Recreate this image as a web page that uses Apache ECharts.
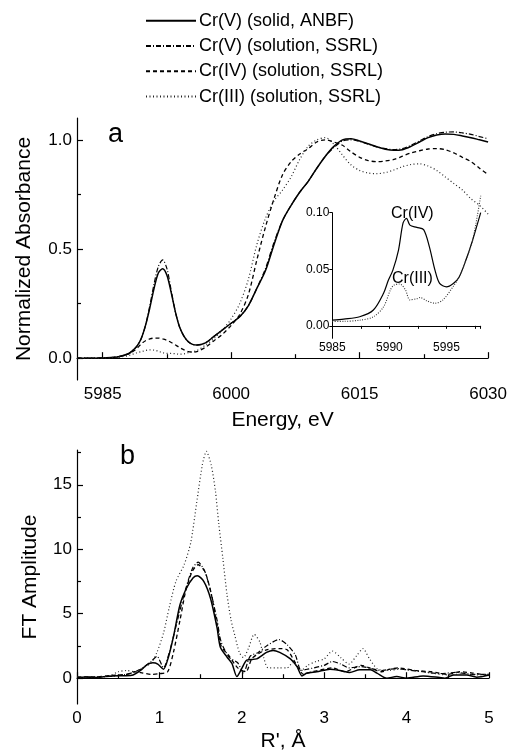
<!DOCTYPE html>
<html><head><meta charset="utf-8">
<script src="https://cdn.jsdelivr.net/npm/echarts@6/dist/echarts.min.js"></script>
<style>html,body{margin:0;padding:0;background:#fff}#c{width:510px;height:753px}</style>
</head><body><div id="c"></div>
<script>
// ---------- DATA ----------
const seriesNames = ['Cr(V) (solid, ANBF)', 'Cr(V) (solution, SSRL)', 'Cr(IV) (solution, SSRL)', 'Cr(III) (solution, SSRL)'];

// Panel a: XANES
const energies = [5982,5984,5986,5987,5988,5988.5,5989,5989.5,5990,5990.5,5991,5991.5,5992,5992.5,5993,5993.5,5994,5994.5,5995,5995.5,5996,5997,5998,5999,6000,6001,6002,6003,6004,6005,6006,6007,6008,6009,6010,6011,6012,6013,6014,6015,6016,6017,6018,6019,6020,6021,6022,6023,6024,6025,6026,6027,6028,6029,6030];
const aSolid = [0,0,0.003,0.008,0.02,0.035,0.055,0.09,0.15,0.23,0.32,0.39,0.41,0.38,0.30,0.21,0.14,0.10,0.075,0.063,0.06,0.07,0.10,0.13,0.16,0.19,0.24,0.32,0.40,0.52,0.63,0.70,0.76,0.81,0.87,0.925,0.97,1.0,1.005,0.995,0.982,0.968,0.957,0.952,0.955,0.97,0.99,1.01,1.022,1.027,1.025,1.018,1.01,1.0,0.99];
const aDashDot = [0,0,0.003,0.008,0.02,0.035,0.055,0.09,0.15,0.24,0.34,0.42,0.45,0.41,0.31,0.21,0.14,0.10,0.075,0.063,0.06,0.07,0.10,0.13,0.16,0.19,0.24,0.32,0.41,0.53,0.63,0.70,0.76,0.81,0.87,0.925,0.965,0.995,1.0,0.993,0.98,0.968,0.96,0.955,0.96,0.975,0.995,1.015,1.028,1.035,1.036,1.032,1.025,1.015,1.005];
const aDashed = [0,0,0.003,0.008,0.02,0.03,0.045,0.065,0.08,0.088,0.092,0.092,0.088,0.082,0.072,0.06,0.048,0.038,0.03,0.028,0.03,0.05,0.08,0.11,0.15,0.20,0.29,0.45,0.60,0.73,0.84,0.90,0.935,0.96,0.99,1.0,0.99,0.975,0.945,0.92,0.905,0.90,0.903,0.91,0.925,0.94,0.95,0.958,0.96,0.955,0.94,0.92,0.90,0.87,0.84];
const aDotted = [0,0,0.002,0.005,0.012,0.018,0.025,0.03,0.035,0.038,0.037,0.032,0.025,0.022,0.022,0.02,0.018,0.02,0.025,0.03,0.035,0.06,0.09,0.13,0.18,0.25,0.36,0.52,0.64,0.72,0.77,0.83,0.91,0.97,1.0,1.01,0.98,0.93,0.885,0.86,0.848,0.845,0.85,0.862,0.877,0.887,0.89,0.88,0.86,0.83,0.80,0.77,0.73,0.70,0.66];

// Inset (pre-edge)
const insetIVEnergy = [5985,5986,5987.4,5988.6,5989.5,5989.9,5990.3,5990.8,5991.2,5991.5,5991.8,5992.4,5993.0,5993.5,5994.0,5994.4,5995.0,5995.6,5996.1,5996.7,5997.3,5998.0];
const insetIV = [0.005,0.006,0.008,0.014,0.029,0.04,0.049,0.067,0.091,0.095,0.089,0.087,0.085,0.07,0.049,0.0375,0.0345,0.0375,0.043,0.058,0.076,0.10];
const insetIIIEnergy = [5985,5986,5987.4,5988.6,5989.5,5990.1,5990.4,5990.9,5991.4,5991.8,5992.4,5992.7,5993.3,5994.0,5994.7,5995.6,5996.1,5996.7,5997.3,5998.0];
const insetIII = [0.004,0.004,0.005,0.008,0.017,0.032,0.036,0.037,0.032,0.023,0.024,0.025,0.022,0.02,0.023,0.035,0.043,0.058,0.076,0.115];

// Panel b: FT
const bSolidR = [0,0.1,0.2,0.3,0.4,0.5,0.6,0.68,0.77,0.85,0.92,0.98,1.05,1.11,1.17,1.25,1.33,1.41,1.46,1.54,1.62,1.70,1.74,1.82,1.88,1.94,2.0,2.06,2.18,2.3,2.38,2.46,2.59,2.67,2.73,2.79,2.91,3.07,3.19,3.31,3.43,3.56,3.64,3.76,3.88,4.0,4.2,4.4,4.46,4.57,4.73,4.85,5.0];
const bSolid = [0,0.1,0.05,0.1,0.15,0.2,0.2,0.25,0.6,1.05,1.2,1.1,0.7,1.65,3.2,5.7,7.0,7.8,7.95,7.5,6.2,3.9,2.4,1.65,1.15,0.13,0.76,1.4,1.5,2.0,2.15,2.0,1.5,0.9,0.18,0.4,0.5,0.7,0.6,0.45,0.65,0.65,0.4,0.0,0.13,0.0,0.18,0.05,0.0,0.25,0.25,0.08,0.25];
const bDashDotR = [0,0.2,0.4,0.6,0.7,0.8,0.9,0.97,1.05,1.12,1.2,1.3,1.4,1.47,1.55,1.62,1.7,1.75,1.85,1.95,2.02,2.1,2.2,2.3,2.45,2.55,2.65,2.72,2.8,3.0,3.1,3.2,3.3,3.45,3.6,3.7,3.8,3.9,4.0,4.2,4.4,4.6,4.8,5.0];
const bDashDot = [0.05,0.1,0.15,0.3,0.5,0.8,1.3,1.7,0.8,2.0,4.0,6.5,8.5,9.0,8.3,6.8,4.5,2.8,1.6,1.2,0.4,1.7,2.0,2.5,3.0,2.6,1.8,0.6,0.7,1.0,1.3,1.1,0.8,0.9,0.7,0.6,0.7,0.75,0.65,0.5,0.35,0.45,0.3,0.3];
const bDashedR = [0,0.2,0.4,0.6,0.7,0.8,0.9,1.0,1.1,1.17,1.25,1.32,1.4,1.47,1.55,1.62,1.7,1.75,1.85,1.95,2.05,2.12,2.2,2.3,2.45,2.55,2.65,2.75,2.85,3.0,3.1,3.25,3.45,3.55,3.7,3.8,3.9,4.1,4.3,4.5,4.65,4.8,5.0];
const bDashed = [0.1,0.1,0.2,0.3,0.5,0.4,0.3,0.35,0.5,2.0,4.5,6.8,8.3,8.8,8.3,6.8,4.2,2.5,1.7,0.8,0.5,1.5,1.9,2.2,2.3,2.2,1.2,0.3,0.5,0.7,0.8,0.5,1.0,0.8,0.5,0.7,0.8,0.6,0.5,0.3,0.5,0.4,0.2];
const bDottedR = [0,0.2,0.4,0.5,0.6,0.7,0.8,0.9,0.97,1.05,1.12,1.2,1.3,1.38,1.45,1.52,1.57,1.63,1.68,1.72,1.77,1.82,1.87,1.92,1.97,2.02,2.08,2.15,2.22,2.27,2.32,2.45,2.55,2.62,2.72,2.8,2.9,3.0,3.1,3.2,3.3,3.4,3.47,3.55,3.65,3.8,3.9,4.1,4.3,4.5,4.7,4.85,5.0];
const bDotted = [0.1,0.1,0.2,0.5,0.6,0.5,0.8,1.2,2.0,3.5,5.5,7.5,8.8,10.5,13.5,16.5,17.6,16.5,14.5,12.0,9.3,6.5,4.5,3.2,2.0,1.6,2.3,3.4,2.8,1.5,0.8,0.8,0.8,1.2,0.6,1.0,1.3,1.5,2.1,1.6,1.1,1.8,2.3,1.5,0.7,0.6,0.7,0.6,0.4,0.25,0.35,0.25,0.3];

// Tick values
const aXMajor = [5985, 6000, 6015, 6030];
const aXMinor = [5992.5, 6007.5, 6022.5];
const aYMajor = [0, 0.5, 1.0];
const aYMinor = [0.25, 0.75];
const bXMajor = [0, 1, 2, 3, 4, 5];
const bXMinor = [0.5, 1.5, 2.5, 3.5, 4.5];
const bYMajor = [0, 5, 10, 15];
const bYMinor = [2.5, 7.5, 12.5, 17.5];
const insetXLabels = [5985, 5990, 5995];
const insetYMajor = [0, 0.05, 0.10];

// ---------- CHART ----------
const FONT = "'Liberation Sans', Arial, sans-serif";
const pair = (xs, ys) => xs.slice(0, Math.min(xs.length, ys.length)).map((x, i) => [x, ys[i]]);
const styles = [
  {color: '#000', type: 'solid', width: 1.5},
  {color: '#000', type: [5, 2, 1, 2], width: 1.2},
  {color: '#000', type: [4, 3], width: 1.3},
  {color: '#222', type: [1, 2.5], width: 1.2}
];
const axLine = {show: true, lineStyle: {color: '#000', width: 1.2}};
const plain = v => String(v);

function mainX(grid, min, max, major, name, nameGap) {
  return {type: 'value', gridIndex: grid, min, max, position: 'bottom',
    axisLine: axLine, splitLine: {show: false},
    axisTick: {show: true, inside: true, length: 6, customValues: major, lineStyle: {color: '#000', width: 1.2}},
    axisLabel: {customValues: major, formatter: plain, color: '#000', fontSize: 17, fontFamily: FONT, margin: 6},
    name, nameLocation: 'middle', nameGap, nameTextStyle: {color: '#000', fontSize: 21, fontFamily: FONT}};
}
function minorX(grid, min, max, minor) {
  return {type: 'value', gridIndex: grid, min, max, position: 'bottom',
    axisLine: {show: false}, splitLine: {show: false}, axisLabel: {show: false},
    axisTick: {show: true, inside: true, length: 4, customValues: minor, lineStyle: {color: '#000', width: 1.2}}};
}
function mainY(grid, min, max, major, fmt, name, nameGap) {
  return {type: 'value', gridIndex: grid, min, max, position: 'left',
    axisLine: axLine, splitLine: {show: false},
    axisTick: {show: true, inside: true, length: 6, customValues: major, lineStyle: {color: '#000', width: 1.2}},
    axisLabel: {customValues: major, formatter: fmt, color: '#000', fontSize: 17, fontFamily: FONT, margin: 5},
    name, nameLocation: 'middle', nameGap, nameTextStyle: {color: '#000', fontSize: 21, fontFamily: FONT}};
}
function minorY(grid, min, max, minor) {
  return {type: 'value', gridIndex: grid, min, max, position: 'left', offset: 0,
    axisLine: {show: false}, splitLine: {show: false}, axisLabel: {show: false},
    axisTick: {show: true, inside: true, length: 4, customValues: minor, lineStyle: {color: '#000', width: 1.2}}};
}

const series = [];
const aSets = [aSolid, aDashDot, aDashed, aDotted];
aSets.forEach((ys, i) => series.push({type: 'line', name: seriesNames[i], xAxisIndex: 0, yAxisIndex: 0,
  data: pair(energies, ys), symbol: 'none', showSymbol: false, smooth: 0.3, lineStyle: styles[i], itemStyle: {color: '#000'}}));
const bSets = [[bSolidR, bSolid], [bDashDotR, bDashDot], [bDashedR, bDashed], [bDottedR, bDotted]];
bSets.forEach((s, i) => series.push({type: 'line', name: seriesNames[i], xAxisIndex: 2, yAxisIndex: 2,
  data: pair(s[0], s[1]), symbol: 'none', showSymbol: false, smooth: 0.25, lineStyle: styles[i], itemStyle: {color: '#000'}}));
series.push({type: 'line', name: 'insetIV', xAxisIndex: 4, yAxisIndex: 4, data: pair(insetIVEnergy, insetIV),
  symbol: 'none', smooth: 0.3, clip: false, lineStyle: {color: '#000', width: 1.2}});
series.push({type: 'line', name: 'insetIII', xAxisIndex: 4, yAxisIndex: 4, data: pair(insetIIIEnergy, insetIII),
  symbol: 'none', smooth: 0.3, clip: false, lineStyle: {color: '#333', type: [1, 1.5], width: 1.1}});

const option = {
  animation: false,
  backgroundColor: '#fff',
  textStyle: {fontFamily: FONT},
  legend: {data: seriesNames, orient: 'vertical', left: 145, top: 11.7, padding: 0,
    itemWidth: 50, itemHeight: 18, itemGap: 7.3, selectedMode: false,
    itemStyle: {opacity: 0, borderWidth: 0},
    textStyle: {color: '#000', fontSize: 18, fontFamily: FONT, padding: [0, 0, 0, -2]}},
  grid: [
    {left: 77, right: 21, top: 118, height: 262},
    {left: 77, right: 21, top: 450, height: 258},
    {left: 332.3, top: 212.7, width: 148.4, height: 125.6}
  ],
  xAxis: [
    mainX(0, 5982, 6030, aXMajor, 'Energy, eV', 30),
    minorX(0, 5982, 6030, aXMinor),
    mainX(1, 0, 5, bXMajor, "R', Å", 27),
    minorX(1, 0, 5, bXMinor),
    {type: 'value', gridIndex: 2, min: 5985, max: 5998, interval: 2.5, position: 'bottom',
      axisLine: {show: true, lineStyle: {color: '#000', width: 1}}, splitLine: {show: false},
      axisTick: {show: true, inside: false, length: 3, lineStyle: {color: '#000'}},
      axisLabel: {customValues: insetXLabels, formatter: plain, color: '#000', fontSize: 12, fontFamily: FONT, margin: 3}}
  ],
  yAxis: [
    mainY(0, -0.1, 1.1, aYMajor, v => v.toFixed(1), 'Normalized Absorbance', 42),
    minorY(0, -0.1, 1.1, aYMinor),
    mainY(1, -2, 17.7, bYMajor, plain, 'FT Amplitude', 36),
    minorY(1, -2, 17.7, bYMinor),
    {type: 'value', gridIndex: 2, min: -0.011, max: 0.10, position: 'left',
      axisLine: {show: true, lineStyle: {color: '#000', width: 1}}, splitLine: {show: false},
      axisTick: {show: true, inside: false, length: 3, customValues: insetYMajor, lineStyle: {color: '#000'}},
      axisLabel: {customValues: insetYMajor, formatter: v => v.toFixed(2), color: '#000', fontSize: 12, fontFamily: FONT, margin: 3}}
  ],
  graphic: [
    {type: 'text', left: 108, top: 121, style: {text: 'a', font: '27px ' + FONT, fill: '#000'}},
    {type: 'text', left: 120, top: 443, style: {text: 'b', font: '27px ' + FONT, fill: '#000'}},
    {type: 'text', left: 391, top: 206, style: {text: 'Cr(IV)', font: '16px ' + FONT, fill: '#000'}},
    {type: 'text', left: 392, top: 271, style: {text: 'Cr(III)', font: '16px ' + FONT, fill: '#000'}}
  ],
  series
};
const chart = echarts.init(document.getElementById('c'), null, {renderer: 'canvas'});
chart.setOption(option);
</script>
</body></html>
